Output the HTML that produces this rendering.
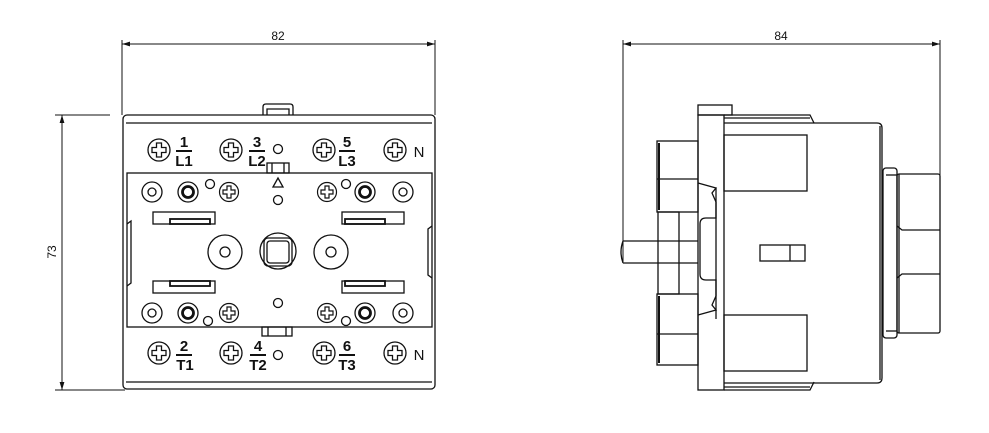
<!DOCTYPE html>
<html><head><meta charset="utf-8"><style>
html,body{margin:0;padding:0;background:#fff;}
svg{display:block;}
text{font-family:"Liberation Sans",sans-serif;fill:#111;}
</style></head><body>
<svg width="989" height="433" viewBox="0 0 989 433" xmlns="http://www.w3.org/2000/svg">
<defs>
<marker id="ar" viewBox="0 0 10 6" refX="10" refY="3" markerWidth="8" markerHeight="5" orient="auto-start-reverse"><path d="M0,0 L10,3 L0,6 z" fill="#111"/></marker>
<g id="scr" fill="none" stroke="#111" stroke-width="1.3">
<circle r="11"/><path d="M-2.5,-7 h5 v4.5 h4.5 v5 h-4.5 v4.5 h-5 v-4.5 h-4.5 v-5 h4.5 z"/>
</g>
<g id="scs" fill="none" stroke="#111" stroke-width="1.2">
<circle r="9.5"/><path d="M-2,-6 h4 v4 h4 v4 h-4 v4 h-4 v-4 h-4 v-4 h4 z"/>
</g>
<g id="pl" fill="none" stroke="#111" stroke-width="1.3"><circle r="10"/><circle r="4"/></g>
<g id="db" fill="none" stroke="#111"><circle r="10" stroke-width="1.3"/><circle r="5.5" stroke-width="2.8"/></g>
</defs>
<g fill="none" stroke="#111" stroke-width="1">
<line x1="122" y1="40" x2="122" y2="115"/><line x1="435" y1="40" x2="435" y2="115"/>
<line x1="122" y1="44" x2="435" y2="44" marker-start="url(#ar)" marker-end="url(#ar)"/>
<line x1="55" y1="115" x2="110" y2="115"/><line x1="55" y1="390" x2="125" y2="390"/>
<line x1="62" y1="115" x2="62" y2="390" marker-start="url(#ar)" marker-end="url(#ar)"/>
<g stroke-width="1.3">
<path d="M263,115 v-8 q0,-3 3,-3 h24 q3,0 3,3 v8"/>
<path d="M267,115 v-6 h22 v6"/>
<rect x="123" y="115" width="312" height="274" rx="4"/>
<line x1="126" y1="123" x2="432" y2="123"/>
<line x1="126" y1="382" x2="432" y2="382"/>
<rect x="127" y="173" width="305" height="154"/>
<path d="M127,224 l4,-3 v62 l-4,3"/>
<path d="M432,226 l-4,3 v46 l4,3"/>
<rect x="267" y="163" width="22" height="10"/><line x1="272" y1="163" x2="272" y2="173"/><line x1="284" y1="163" x2="284" y2="173"/>
<rect x="262" y="327" width="30" height="9"/><line x1="268" y1="327" x2="268" y2="336"/><line x1="286" y1="327" x2="286" y2="336"/>
<rect x="153" y="212" width="62" height="12"/><rect x="170" y="219" width="40" height="5" stroke-width="1.8"/>
<rect x="342" y="212" width="62" height="12"/><rect x="345" y="219" width="40" height="5" stroke-width="1.8"/>
<rect x="153" y="281" width="62" height="12"/><rect x="170" y="281" width="40" height="5" stroke-width="1.8"/>
<rect x="342" y="281" width="62" height="12"/><rect x="345" y="281" width="40" height="5" stroke-width="1.8"/>
<circle cx="225" cy="252" r="17"/><circle cx="225" cy="252" r="5"/>
<circle cx="331" cy="252" r="17"/><circle cx="331" cy="252" r="5"/>
<circle cx="278" cy="251" r="18"/><rect x="264" y="238" width="28" height="28" rx="4"/><rect x="267" y="241" width="22" height="22" rx="3"/>
<path d="M273,187 l5,-9 l5,9 z"/>
<circle cx="278" cy="200" r="4.5"/><circle cx="278" cy="303" r="4.5"/>
<circle cx="278" cy="149" r="4.5"/><circle cx="278" cy="355" r="4.5"/>
<circle cx="210" cy="184" r="4.5"/><circle cx="346" cy="184" r="4.5"/>
<circle cx="208" cy="321" r="4.5"/><circle cx="346" cy="321" r="4.5"/>
</g>
</g>
<use href="#scr" x="159" y="150"/><use href="#scr" x="231" y="150"/><use href="#scr" x="324" y="150"/><use href="#scr" x="395" y="150"/>
<use href="#scr" x="159" y="353"/><use href="#scr" x="231" y="353"/><use href="#scr" x="324" y="353"/><use href="#scr" x="395" y="353"/>
<use href="#pl" x="152" y="192"/><use href="#db" x="188" y="192"/><use href="#scs" x="229" y="192"/>
<use href="#scs" x="327" y="192"/><use href="#db" x="365" y="192"/><use href="#pl" x="403" y="192"/>
<use href="#pl" x="152" y="313"/><use href="#db" x="188" y="313"/><use href="#scs" x="229" y="313"/>
<use href="#scs" x="327" y="313"/><use href="#db" x="365" y="313"/><use href="#pl" x="403" y="313"/>
<g font-size="15" font-weight="bold" text-anchor="middle">
<text x="184" y="147">1</text><text x="184" y="166">L1</text>
<text x="257" y="147">3</text><text x="257" y="166">L2</text>
<text x="347" y="147">5</text><text x="347" y="166">L3</text>
<text x="184" y="351">2</text><text x="185" y="370">T1</text>
<text x="258" y="351">4</text><text x="258" y="370">T2</text>
<text x="347" y="351">6</text><text x="347" y="370">T3</text>
<text x="419" y="157" font-weight="normal">N</text><text x="419" y="360" font-weight="normal">N</text>
</g>
<g stroke="#111" stroke-width="2">
<line x1="176" y1="151" x2="192" y2="151"/><line x1="249" y1="151" x2="265" y2="151"/><line x1="339" y1="151" x2="355" y2="151"/>
<line x1="176" y1="355" x2="192" y2="355"/><line x1="250" y1="355" x2="266" y2="355"/><line x1="339" y1="355" x2="355" y2="355"/>
</g>
<text x="278" y="40" font-size="12" text-anchor="middle">82</text>
<text x="0" y="0" font-size="12" text-anchor="middle" transform="translate(56,252) rotate(-90)">73</text>

<g fill="none" stroke="#111" stroke-width="1">
<line x1="623" y1="40" x2="623" y2="262"/><line x1="940" y1="40" x2="940" y2="175"/>
<line x1="623" y1="44" x2="940" y2="44" marker-start="url(#ar)" marker-end="url(#ar)"/>
<g stroke-width="1.3">
<rect x="698" y="105" width="34" height="10"/>
<rect x="698" y="115" width="26" height="275"/>
<path d="M724,115 h86 l4,8 M724,390 h86 l4,-8"/>
<path d="M724,123 h153 q5,0 5,5 v250 q0,5 -5,5 h-153"/>
<line x1="880" y1="126" x2="880" y2="380"/>
<line x1="724" y1="118" x2="810" y2="118"/><line x1="724" y1="387" x2="810" y2="387"/>
<rect x="724" y="135" width="83" height="56"/>
<rect x="724" y="315" width="83" height="56"/>
<rect x="760" y="245" width="45" height="16"/><line x1="790" y1="245" x2="790" y2="261"/>
<rect x="883" y="168" width="14" height="170" rx="3"/>
<line x1="886" y1="175" x2="897" y2="175"/><line x1="886" y1="331" x2="897" y2="331"/>
<rect x="897" y="174" width="43" height="159" rx="2"/>
<path d="M897,226 l5,4 h38 M897,278 l5,-4 h38"/>
<line x1="899" y1="174" x2="899" y2="333"/>
<rect x="657" y="141" width="41" height="71"/><line x1="657" y1="179" x2="698" y2="179"/>
<rect x="657" y="294" width="41" height="71"/><line x1="657" y1="334" x2="698" y2="334"/>
<line x1="659" y1="143" x2="659" y2="210" stroke-width="2"/><line x1="659" y1="296" x2="659" y2="363" stroke-width="2"/>
<rect x="658" y="212" width="21" height="82"/>
<path d="M623,241 h75 M623,263 h75 M623,241 q-4,11 0,22"/>
<path d="M698,183 l18,5 l-4,5 l4,9 v16 h-10 q-6,0 -6,6 v50 q0,6 6,6 h10 v16 l-4,9 l4,5 l-18,5"/>
<line x1="716" y1="188" x2="716" y2="319"/>
</g>
</g>
<text x="781" y="40" font-size="12" text-anchor="middle">84</text>
</svg>
</body></html>
